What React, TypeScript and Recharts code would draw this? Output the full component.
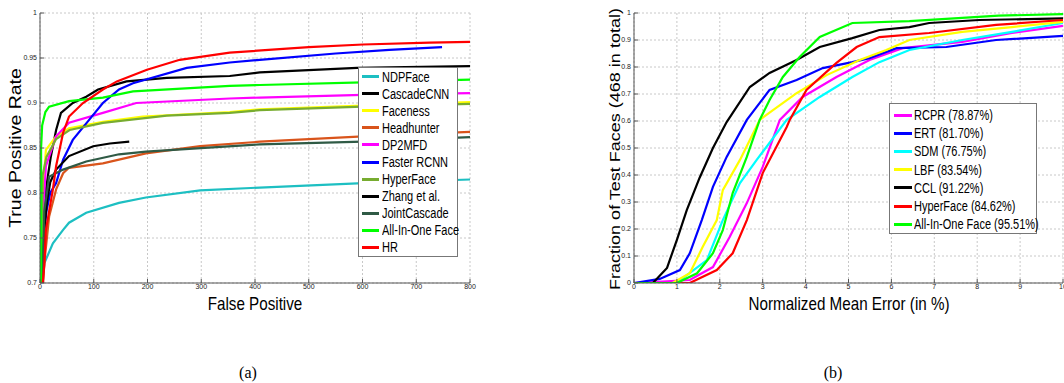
import { LineChart, Line, XAxis, YAxis, CartesianGrid, Legend } from "recharts";

// (a) ROC curves: [false positives, true positive rate]
const rocNDPFace = [[5, 0.7], [8, 0.722], [24, 0.744], [43, 0.759], [54, 0.767], [86, 0.778], [147, 0.789], [197, 0.795], [298, 0.803], [409, 0.806], [601, 0.811], [800, 0.815]];
const rocCascadeCNN = [[5, 0.7], [7, 0.75], [11, 0.804], [20, 0.84], [30, 0.87], [39, 0.889], [61, 0.9], [86, 0.907], [108, 0.915], [161, 0.924], [236, 0.928], [353, 0.93], [409, 0.934], [590, 0.939], [800, 0.941]];
const rocFaceness = [[3, 0.7], [5, 0.8], [11, 0.848], [30, 0.863], [54, 0.872], [117, 0.879], [191, 0.885], [353, 0.89], [409, 0.893], [600, 0.897], [800, 0.901]];
const rocHeadhunter = [[6, 0.7], [8, 0.722], [17, 0.774], [30, 0.804], [43, 0.822], [54, 0.828], [117, 0.833], [197, 0.844], [298, 0.852], [409, 0.857], [601, 0.863], [800, 0.868]];
const rocDP2MFD = [[4, 0.7], [6, 0.78], [11, 0.83], [30, 0.863], [54, 0.878], [117, 0.889], [179, 0.9], [353, 0.905], [409, 0.906], [600, 0.909], [800, 0.911]];
const rocFasterRCNN = [[5, 0.7], [7, 0.75], [12, 0.78], [19, 0.8], [30, 0.811], [43, 0.837], [61, 0.859], [91, 0.881], [117, 0.9], [147, 0.915], [173, 0.922], [273, 0.939], [353, 0.945], [409, 0.948], [550, 0.955], [650, 0.959], [748, 0.962]];
const rocHyperFace = [[3, 0.7], [5, 0.82], [12, 0.84], [30, 0.86], [55, 0.87], [117, 0.878], [236, 0.886], [353, 0.889], [409, 0.892], [600, 0.896], [800, 0.899]];
const rocZhang = [[5, 0.7], [8, 0.76], [13, 0.79], [19, 0.812], [30, 0.826], [54, 0.841], [99, 0.852], [130, 0.855], [166, 0.857]];
const rocJointCascade = [[5, 0.7], [8, 0.78], [17, 0.818], [43, 0.826], [86, 0.835], [147, 0.843], [197, 0.846], [409, 0.854], [601, 0.857], [800, 0.862]];
const rocAllInOne = [[2, 0.7], [2, 0.85], [4, 0.875], [10, 0.89], [17, 0.896], [54, 0.902], [117, 0.906], [173, 0.913], [353, 0.919], [409, 0.92], [600, 0.923], [800, 0.926]];
const rocHR = [[5, 0.7], [8, 0.72], [11, 0.759], [24, 0.804], [30, 0.83], [43, 0.867], [54, 0.885], [80, 0.9], [117, 0.915], [143, 0.924], [199, 0.937], [260, 0.948], [353, 0.956], [500, 0.962], [601, 0.965], [725, 0.967], [800, 0.968]];

// (b) CED curves: [normalized mean error %, fraction of faces]
const cedRCPR = [[0, 0], [1.3, 0.011], [1.84, 0.059], [2.23, 0.17], [2.63, 0.296], [3.0, 0.43], [3.4, 0.604], [3.93, 0.689], [4.72, 0.763], [5.49, 0.826], [6.26, 0.87], [7.65, 0.893], [8.81, 0.926], [10, 0.952]];
const cedERT = [[0, 0], [0.6, 0.015], [1.07, 0.048], [1.3, 0.11], [1.58, 0.233], [1.84, 0.356], [2.16, 0.467], [2.63, 0.604], [3.16, 0.715], [3.79, 0.752], [4.4, 0.796], [5.09, 0.818], [5.49, 0.833], [6.12, 0.87], [7.28, 0.874], [8.44, 0.9], [10, 0.915]];
const cedSDM = [[0, 0], [1.0, 0], [1.14, 0.018], [1.7, 0.085], [2.07, 0.233], [2.47, 0.37], [2.86, 0.456], [3.56, 0.604], [4.33, 0.689], [5.09, 0.763], [5.72, 0.818], [6.42, 0.863], [7.65, 0.9], [8.81, 0.93], [10, 0.963]];
const cedLBF = [[0, 0], [0.9, 0], [1.3, 0.036], [1.6, 0.133], [1.93, 0.233], [2.07, 0.344], [2.47, 0.456], [2.93, 0.604], [3.24, 0.64], [3.79, 0.703], [4.49, 0.77], [5.26, 0.826], [5.88, 0.863], [6.42, 0.9], [7.65, 0.93], [8.81, 0.948], [10, 0.967]];
const cedCCL = [[0, 0], [0.44, 0], [0.77, 0.056], [1.0, 0.16], [1.23, 0.27], [1.53, 0.39], [1.84, 0.5], [2.16, 0.596], [2.7, 0.726], [3.16, 0.778], [3.79, 0.826], [4.33, 0.874], [5.09, 0.907], [5.72, 0.937], [6.42, 0.948], [6.88, 0.963], [8.05, 0.974], [10, 0.98]];
const cedHyperFace = [[0, 0], [1.3, 0], [1.93, 0.048], [2.3, 0.11], [2.63, 0.233], [3.0, 0.407], [3.56, 0.578], [3.63, 0.604], [4.02, 0.715], [4.72, 0.815], [5.19, 0.874], [5.72, 0.911], [6.88, 0.926], [8.44, 0.956], [10, 0.974]];
const cedAllInOne = [[0, 0], [1.0, 0], [1.47, 0.036], [1.84, 0.11], [2.07, 0.196], [2.3, 0.333], [2.63, 0.467], [2.93, 0.604], [3.16, 0.678], [3.47, 0.763], [3.86, 0.837], [4.33, 0.911], [5.09, 0.963], [6.42, 0.97], [8.5, 0.99], [10, 0.996]];

const rocTicksX = [0, 100, 200, 300, 400, 500, 600, 700, 800];
const rocTicksY = [0.7, 0.75, 0.8, 0.85, 0.9, 0.95, 1];
const cedTicksX = [0, 1, 2, 3, 4, 5, 6, 7, 8, 9, 10];
const cedTicksY = [0, 0.1, 0.2, 0.3, 0.4, 0.5, 0.6, 0.7, 0.8, 0.9, 1];

const rocSeries = [
  { name: "NDPFace", color: "#1DBFC2", points: rocNDPFace },
  { name: "CascadeCNN", color: "#000000", points: rocCascadeCNN },
  { name: "Faceness", color: "#FFFF00", points: rocFaceness },
  { name: "Headhunter", color: "#D9541B", points: rocHeadhunter },
  { name: "DP2MFD", color: "#FF00FF", points: rocDP2MFD },
  { name: "Faster RCNN", color: "#0000FF", points: rocFasterRCNN },
  { name: "HyperFace", color: "#77AC30", points: rocHyperFace },
  { name: "Zhang et al.", color: "#000000", points: rocZhang },
  { name: "JointCascade", color: "#2F5A45", points: rocJointCascade },
  { name: "All-In-One Face", color: "#00FF00", points: rocAllInOne },
  { name: "HR", color: "#FF0000", points: rocHR },
];

const cedSeries = [
  { name: "RCPR (78.87%)", color: "#FF00FF", points: cedRCPR },
  { name: "ERT (81.70%)", color: "#0000FF", points: cedERT },
  { name: "SDM (76.75%)", color: "#00FFFF", points: cedSDM },
  { name: "LBF (83.54%)", color: "#FFFF00", points: cedLBF },
  { name: "CCL (91.22%)", color: "#000000", points: cedCCL },
  { name: "HyperFace (84.62%)", color: "#FF0000", points: cedHyperFace },
  { name: "All-In-One Face (95.51%)", color: "#00FF00", points: cedAllInOne },
];

const SANS = "'Liberation Sans', Arial, sans-serif";
const tickStyle = { fontSize: 7, fontFamily: SANS, fill: "#222" };
const frame = "#555";

const toXY = (pts) => pts.map(([x, y]) => ({ x, y }));

function LegendBox({ items, width, height, rowH, padTop, padLeft, sample, gap }) {
  return (
    <div style={{
      width, height, boxSizing: "border-box", border: "1px solid #777", background: "#fff",
      padding: `${padTop}px 0 0 ${padLeft}px`, fontFamily: SANS, fontSize: 15.5, color: "#000",
    }}>
      {items.map((s) => (
        <div key={s.name} style={{ display: "flex", alignItems: "center", height: rowH, whiteSpace: "nowrap" }}>
          <span style={{ display: "inline-block", width: sample, height: 3, background: s.color, marginRight: gap, flex: "none" }} />
          <span style={{ display: "inline-block", transform: "scaleX(0.71)", transformOrigin: "left center" }}>{s.name}</span>
        </div>
      ))}
    </div>
  );
}

const title = (left, top, size, text, vertical) => (
  <div style={{
    position: "absolute", left, top, fontFamily: SANS, fontSize: size, whiteSpace: "nowrap", lineHeight: 1,
    transform: vertical ? "translate(-50%, -50%) rotate(-90deg) scaleY(0.85)" : "translate(-50%, -50%) scaleX(0.8)",
  }}>{text}</div>
);

export default function App() {
  return (
    <div style={{ position: "absolute", left: 0, top: 0, width: 1064, height: 383, background: "#fff", overflow: "hidden" }}>
      <div style={{ position: "absolute", left: 0, top: 0 }}>
        <LineChart width={480} height={300} margin={{ top: 13, right: 10, bottom: 0, left: 0 }}>
          <CartesianGrid strokeDasharray="2 2" stroke="#c8c8c8" />
          <XAxis dataKey="x" type="number" domain={[0, 800]} ticks={rocTicksX} interval={0} allowDataOverflow
            height={17} tickSize={-4} tickMargin={5} tick={tickStyle} stroke={frame} />
          <XAxis xAxisId="top" orientation="top" type="number" domain={[0, 800]} ticks={rocTicksX} interval={0}
            height={0} tickSize={-4} tick={false} stroke={frame} />
          <YAxis dataKey="y" type="number" domain={[0.7, 1]} ticks={rocTicksY} interval={0} allowDataOverflow
            width={40} tickSize={-4} tickMargin={7} tick={tickStyle} stroke={frame} />
          <YAxis yAxisId="right" orientation="right" type="number" domain={[0.7, 1]} ticks={rocTicksY} interval={0}
            width={0} tickSize={-4} tick={false} stroke={frame} />
          {rocSeries.map((s) => (
            <Line key={s.name} data={toXY(s.points)} dataKey="y" name={s.name} type="linear" stroke={s.color}
              strokeWidth={2.2} dot={false} isAnimationActive={false} />
          ))}
          <Legend layout="vertical" align="center" verticalAlign="middle"
            wrapperStyle={{ left: 358, top: 67, width: 100 }}
            content={() => <LegendBox items={rocSeries} width={100} height={190} rowH={17.1} padTop={0} padLeft={3} sample={17} gap={3} />} />
        </LineChart>
      </div>

      <div style={{ position: "absolute", left: 590, top: 0 }}>
        <LineChart width={474} height={300} margin={{ top: 13, right: 1, bottom: 0, left: 0 }}>
          <CartesianGrid strokeDasharray="2 2" stroke="#c8c8c8" />
          <XAxis dataKey="x" type="number" domain={[0, 10]} ticks={cedTicksX} interval={0} allowDataOverflow
            height={17} tickSize={-4} tickMargin={5} tick={tickStyle} stroke={frame} />
          <XAxis xAxisId="top" orientation="top" type="number" domain={[0, 10]} ticks={cedTicksX} interval={0}
            height={0} tickSize={-4} tick={false} stroke={frame} />
          <YAxis dataKey="y" type="number" domain={[0, 1]} ticks={cedTicksY} interval={0} allowDataOverflow
            width={44} tickSize={-4} tickMargin={7} tick={tickStyle} stroke={frame} />
          <YAxis yAxisId="right" orientation="right" type="number" domain={[0, 1]} ticks={cedTicksY} interval={0}
            width={0} tickSize={-4} tick={false} stroke={frame} />
          {cedSeries.map((s) => (
            <Line key={s.name} data={toXY(s.points)} dataKey="y" name={s.name} type="linear" stroke={s.color}
              strokeWidth={2.2} dot={false} isAnimationActive={false} />
          ))}
          <Legend layout="vertical" align="center" verticalAlign="middle"
            wrapperStyle={{ left: 299, top: 103, width: 148 }}
            content={() => <LegendBox items={cedSeries} width={148} height={131} rowH={18.2} padTop={2} padLeft={4} sample={18} gap={2} />} />
        </LineChart>
      </div>

      {/* axis titles */}
      {title(16, 148, 19.5, "True Positive Rate", true)}
      {title(255, 303, 19, "False Positive", false)}
      {title(615, 149, 18, "Fraction of Test Faces (468 in total)", true)}
      {title(849, 303, 19, "Normalized Mean Error (in %)", false)}

      {/* captions */}
      <div style={{ position: "absolute", left: 248, top: 373, transform: "translate(-50%, -50%)", fontFamily: "'Liberation Serif', serif", fontSize: 16 }}>(a)</div>
      <div style={{ position: "absolute", left: 833, top: 373, transform: "translate(-50%, -50%)", fontFamily: "'Liberation Serif', serif", fontSize: 16 }}>(b)</div>
    </div>
  );
}
